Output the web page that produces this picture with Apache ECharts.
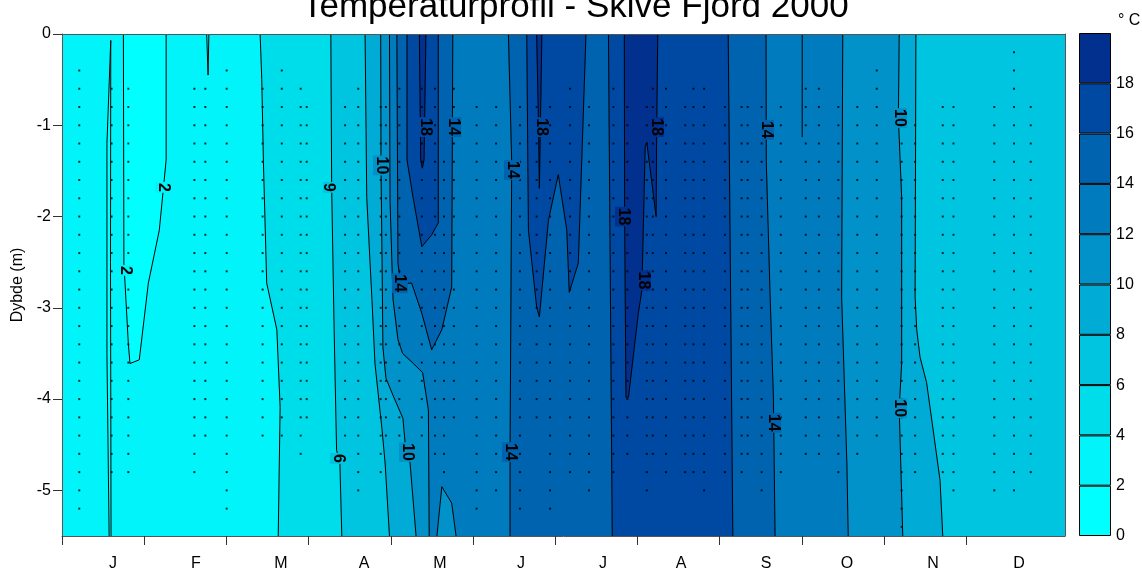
<!DOCTYPE html>
<html><head><meta charset="utf-8">
<script src="https://cdn.jsdelivr.net/npm/echarts@6/dist/echarts.min.js"></script>
<style>html,body{margin:0;padding:0;background:#fff}#c{width:1142px;height:572px}</style>
</head><body><div id="c"></div>
<script>
// ---------- axes / legend ----------
const MONTHS = ['J','F','M','A','M','J','J','A','S','O','N','D'];
const MONTH_TICKS = [0,30,60,90,120,150,180,210,240,270,300,330];
const MONTH_LABEL_POS = [18.6,48.9,79.9,110.2,137.9,167.5,197.4,225.9,256.9,286.4,317.8,349.2];
const DEPTH_TICKS = [0,-1,-2,-3,-4,-5];
const LEVELS = [0,2,4,6,8,10,12,14,16,18,20];
const LEVEL_LABELS = [0,2,4,6,8,10,12,14,16,18];
const BAND_COLORS = ['#00FFFF','#00F4FA','#00DDEA','#00C5E0','#00ACD5','#0092C9','#007BBD','#0063AF','#0049A3','#02308F'];

// ---------- isotherms: [day of year, depth m] ----------
const FULL = [[0,0],[0,-5.5],[366,-5.5],[366,0]];
const ISO2_TONGUE = [[22.4,0],[22.6,-2.51],[24.2,-3.39],[24.8,-3.61],[28.2,-3.57],[31.5,-2.73],[35.5,-2.15],[37.0,-1.69],[38.0,-1.38],[38.0,0]];
const ISO2_SLIVER_A = [[17.8,-0.07],[16.4,-1.2],[16.4,-3.5],[17.2,-5.5]];
const ISO2_SLIVER_B = [[17.8,-0.07],[17.7,-2.5],[17.9,-5.5]];
const ISO2_FEB = [[52.8,0],[53.3,-0.45],[53.6,0]];
const ISO4 = [[72.3,0],[72.9,-0.50],[73.5,-1.41],[74.7,-2.73],[78.4,-3.24],[79.6,-4.09],[78.9,-5.5]];
const ISO6 = [[98.1,0],[98.4,-1.68],[99.3,-3.24],[100.2,-4.56],[101.4,-4.70],[102.1,-5.5]];
const ISO8_SPRING = [[110.6,0],[111.2,-1.79],[113.1,-2.91],[114.2,-3.61],[116.8,-4.34],[117.9,-4.70],[119.5,-5.5]];
const ISO10_SPRING = [[116.3,0],[116.4,-1.46],[116.8,-2.51],[117.1,-3.43],[118.2,-3.77],[120.8,-3.96],[124.4,-4.21],[125.5,-4.58],[127.0,-4.70],[129.2,-5.5]];
const ISO12_SPRING = [[119.5,0],[119.7,-1.82],[120.8,-2.91],[122.6,-3.35],[124.3,-3.50],[128.2,-3.61],[131.6,-3.71],[133.7,-4.12],[134.0,-5.5]];
const ISO14_TONGUE = [[122.2,0],[122.6,-2.51],[123.6,-2.73],[127.6,-2.73],[131.3,-3.06],[134.9,-3.46],[138.6,-3.24],[142.2,-2.77],[142.6,0]];
const ISO16_TONGUE = [[125.9,0],[125.9,-1.38],[128.1,-1.79],[131.3,-2.33],[134.9,-2.20],[137.3,-2.07],[137.3,0]];
const ISO18_MAY = [[130.4,0],[130.9,-1.38],[131.5,-1.47],[132.1,-1.38],[132.8,0]];
const ISO12_BOTTOM = [[136.8,-5.5],[138.6,-4.96],[142.2,-5.14],[143.8,-5.5]];
const ISO14_JUNE = [[162.9,0],[164.1,-1.41],[163.5,-4.58],[163.5,-5.5]];
const ISO16_JUNE = [[169.6,0],[170.2,-2.15],[173.2,-2.99],[174.2,-3.10],[177.5,-2.04],[181.1,-1.54],[184.2,-2.15],[185.1,-2.83],[188.4,-2.51],[191.2,0]];
const ISO18_JUNE = [[173.2,0],[173.9,-1.0],[174.2,-1.69],[175.1,0]];
const ISO16_JUL = [[199.4,0],[200.8,-5.5]];
const ISO18_JUL = [[205.2,0],[205.3,-2.0],[205.8,-3.98],[206.7,-3.98],[210.3,-3.06],[211.6,-2.81],[212.8,-1.24],[213.4,-1.19],[216.8,-2.0],[217.0,-1.05],[217.4,0]];
const ISO16_AUG = [[243.1,0],[244.8,-5.5]];
const ISO14_SEP = [[256.9,0],[257.0,-1.4],[258.4,-2.88],[259.6,-3.98],[260.2,-5.5]];
const ISO14_SEP_SPIKE = [[270.1,0],[270.1,-1.13]];
const ISO12_OCT = [[284.9,0],[284.5,-2.88],[286.4,-4.70],[286.9,-5.5]];
const ISO10_NOV = [[305.5,0],[305.2,-0.92],[306.4,-1.79],[306.4,-3.61],[305.5,-4.10],[306.8,-5.5]];
const ISO8_NOV = [[311.6,0],[311.3,-2.88],[311.9,-3.24],[313.1,-3.54],[315.5,-3.82],[317.9,-4.34],[320.4,-4.89],[321.4,-5.5]];

// contour labels: [day, depth, text, band behind]
const CONTOUR_LABELS = [
  [36.9,-1.68,'2',1],[23.0,-2.59,'2',1],
  [98.2,-1.68,'6',3],[100.7,-4.65,'6',3],
  [116.4,-1.44,'10',5],[125.9,-4.58,'10',5],
  [123.3,-2.73,'14',7],[142.7,-1.02,'14',7],[132.5,-1.02,'18',8],
  [164.2,-1.49,'14',7],[163.5,-4.58,'14',7],[174.8,-1.02,'18',8],
  [204.7,-2.0,'18',9],[212.0,-2.70,'18',9],[216.8,-1.02,'18',9],
  [256.9,-1.05,'14',7],[259.5,-4.26,'14',7],
  [305.4,-0.92,'10',5],[305.4,-4.10,'10',5]
];
const LABELS_READ_UP = [2];   // indices of labels that read bottom-to-top

// sampling profiles: [day, shallowest depth, deepest depth]
const DEPTHS = [-0.2,-0.4,-0.6,-0.8,-1.0,-1.2,-1.4,-1.6,-1.8,-2.0,-2.2,-2.4,-2.6,-2.8,-3.0,-3.2,-3.4,-3.6,-3.8,-4.0,-4.2,-4.4,-4.6,-4.8,-5.0,-5.2,-5.4];
const PROFILES = [
  [6.3,-0.4,-5.2],[18.1,-0.6,-4.8],[24.2,-0.6,-4.8],[48.3,-0.6,-4.8],[52.3,-0.6,-4.4],[60.1,-0.4,-5.2],
  [73.2,-0.6,-4.4],[80.2,-0.4,-4.4],[87.1,-0.6,-4.6],[89.3,-0.8,-4.2],[103.3,-0.8,-4.4],[108.1,-0.6,-5.0],
  [116.3,-0.8,-4.8],[118.2,-0.8,-4.4],[123.1,-0.6,-4.4],[131.3,-0.6,-4.4],[136.1,-0.6,-4.6],[139.4,-1.4,-4.8],
  [143.0,-0.6,-4.2],[151.3,-0.8,-5.2],[158.4,-0.8,-5.0],[167.1,-0.8,-5.2],[173.2,-0.8,-4.2],[178.1,-0.8,-5.2],
  [185.4,-0.6,-4.8],[192.3,-0.8,-5.0],[201.2,-0.6,-4.8],[206.3,-0.8,-4.6],[213.4,-0.8,-5.0],[215.6,-0.6,-4.6],
  [220.4,-0.6,-4.8],[227.4,-0.8,-4.8],[230.4,-0.6,-4.8],[234.3,-0.6,-5.0],[241.9,-0.8,-4.8],[248.0,-0.8,-4.8],
  [250.2,-0.8,-4.6],[255.3,-0.8,-5.0],[262.3,-0.8,-4.8],[271.4,-0.6,-4.6],[276.2,-0.6,-4.6],[283.3,-0.8,-4.8],
  [290.2,-0.8,-4.6],[297.3,-0.4,-4.4],[306.4,-1.2,-5.4],[311.3,-1.0,-4.8],[321.4,-0.8,-4.8],[325.3,-0.8,-5.0],
  [340.2,-0.8,-5.0],[347.4,-0.2,-5.0],[353.5,-0.8,-4.8]
];

// ---------- build ----------
const rev = a => a.slice().reverse();
const RIGHT_EDGE = [[366,-5.5],[366,0]];
const REGIONS = [
  {band:1, pts: FULL},
  {band:0, pts: ISO2_TONGUE},
  {band:0, pts: ISO2_SLIVER_A.concat(rev(ISO2_SLIVER_B))},
  {band:0, pts: ISO2_FEB},
  {band:2, pts: ISO4.concat(RIGHT_EDGE)},
  {band:3, pts: ISO6.concat(RIGHT_EDGE)},
  {band:4, pts: ISO8_SPRING.concat(rev(ISO8_NOV))},
  {band:5, pts: ISO10_SPRING.concat(rev(ISO10_NOV))},
  {band:6, pts: ISO12_SPRING.concat(rev(ISO12_OCT))},
  {band:5, pts: ISO12_BOTTOM},
  {band:7, pts: ISO14_TONGUE},
  {band:7, pts: ISO14_JUNE.concat(rev(ISO14_SEP))},
  {band:8, pts: ISO16_TONGUE},
  {band:8, pts: ISO16_JUNE},
  {band:8, pts: ISO16_JUL.concat(rev(ISO16_AUG))},
  {band:9, pts: ISO18_MAY},
  {band:9, pts: ISO18_JUNE},
  {band:9, pts: ISO18_JUL}
];
const ISOLINES = [ISO2_TONGUE,ISO2_SLIVER_A,ISO2_SLIVER_B,ISO2_FEB,ISO4,ISO6,ISO8_SPRING,ISO10_SPRING,ISO12_SPRING,
  ISO14_TONGUE,ISO16_TONGUE,ISO18_MAY,ISO12_BOTTOM,ISO14_JUNE,ISO16_JUNE,ISO18_JUNE,ISO16_JUL,ISO18_JUL,ISO16_AUG,
  ISO14_SEP,ISO14_SEP_SPIKE,ISO12_OCT,ISO10_NOV,ISO8_NOV];

const DOTS = [];
PROFILES.forEach(p => DEPTHS.forEach(d => { if (d <= p[1] + 1e-6 && d >= p[2] - 1e-6) DOTS.push([p[0], d]); }));

const FONT = 'Liberation Sans, Arial, sans-serif';
const series = [];
series.push({
  type:'custom', xAxisIndex:0, yAxisIndex:0, z:1, silent:true, clip:true,
  data: REGIONS.map(r => r.pts[0]),
  encode:{x:0,y:1},
  renderItem:(params, api) => {
    const r = REGIONS[params.dataIndex];
    return {type:'polygon', shape:{points: r.pts.map(p => api.coord(p))},
      style:{fill: BAND_COLORS[r.band], stroke: BAND_COLORS[r.band], lineWidth:0.5}};
  }
});
ISOLINES.forEach(line => series.push({
  type:'line', xAxisIndex:0, yAxisIndex:0, z:3, silent:true, data: line, symbol:'none', showSymbol:false,
  lineStyle:{color:'#000', width:1}
}));
series.push({type:'scatter', xAxisIndex:0, yAxisIndex:0, z:4, silent:true, data: DOTS, symbol:'rect', symbolSize:2, itemStyle:{color:'#000'}});
series.push({
  type:'custom', xAxisIndex:0, yAxisIndex:0, z:5, silent:true,
  data: CONTOUR_LABELS.map(l => [l[0], l[1]]), encode:{x:0,y:1},
  renderItem:(params, api) => {
    const l = CONTOUR_LABELS[params.dataIndex];
    const c = api.coord([l[0], l[1]]);
    const up = LABELS_READ_UP.indexOf(params.dataIndex) >= 0;
    return {type:'text', x:c[0], y:c[1], rotation: up ? Math.PI/2 : -Math.PI/2,
      style:{text:l[2], fill:'#000', font:'bold 16px ' + FONT, align:'center', verticalAlign:'middle',
        backgroundColor: BAND_COLORS[l[3]], padding:[0,1]}};
  }
});
for (let i = 0; i < LEVELS.length - 1; i++) {
  series.push({type:'bar', xAxisIndex:2, yAxisIndex:2, stack:'cb', barWidth:'100%', silent:true,
    data:[LEVELS[i+1] - LEVELS[i]], itemStyle:{color: BAND_COLORS[i], borderColor:'#000', borderWidth:1}});
}

const chart = echarts.init(document.getElementById('c'), null, {renderer:'canvas'});
chart.setOption({
  animation:false,
  backgroundColor:'#fff',
  title:{text:'Temperaturprofil - Skive Fjord 2000', left:297, top:-15,
    textStyle:{fontSize:35, fontWeight:'normal', color:'#000', fontFamily:FONT}},
  graphic:[{type:'text', left:1118, top:13, style:{text:'° C', font:'16px ' + FONT, fill:'#000'}}],
  grid:[
    {left:62, top:34, width:1003, height:502},
    {left:1079, top:33, width:32, height:503}
  ],
  xAxis:[
    {type:'value', gridIndex:0, min:0, max:366, z:10,
      axisLine:{show:true, onZero:false, lineStyle:{color:'#555', width:1}},
      axisTick:{show:true, length:9, customValues:MONTH_TICKS, lineStyle:{color:'#333'}},
      axisLabel:{customValues:MONTH_LABEL_POS, margin:20, fontSize:16, color:'#000', fontFamily:FONT,
        formatter:v => { let bi=0; MONTH_LABEL_POS.forEach((p,i)=>{ if (Math.abs(p-v) < Math.abs(MONTH_LABEL_POS[bi]-v)) bi=i; }); return MONTHS[bi]; }},
      splitLine:{show:false}},
    {type:'value', gridIndex:0, min:0, max:366, position:'top', z:10,
      axisLine:{show:true, onZero:false, lineStyle:{color:'#555', width:1}},
      axisTick:{show:false}, axisLabel:{show:false}, splitLine:{show:false}},
    {type:'category', gridIndex:1, data:['T'], show:false}
  ],
  yAxis:[
    {type:'value', gridIndex:0, min:-5.5, max:0, z:10,
      name:'Dybde (m)', nameLocation:'middle', nameGap:24,
      nameTextStyle:{fontSize:16, color:'#000', fontFamily:FONT},
      axisLine:{show:true, onZero:false, lineStyle:{color:'#555', width:1}},
      axisTick:{show:true, length:9, customValues:DEPTH_TICKS, lineStyle:{color:'#333'}},
      axisLabel:{customValues:DEPTH_TICKS, margin:11, fontSize:16, color:'#000', fontFamily:FONT},
      splitLine:{show:false}},
    {type:'value', gridIndex:0, min:-5.5, max:0, position:'right', z:10,
      axisLine:{show:true, onZero:false, lineStyle:{color:'#555', width:1}},
      axisTick:{show:false}, axisLabel:{show:false}, splitLine:{show:false}},
    {type:'value', gridIndex:1, min:0, max:20, position:'right',
      axisLine:{show:false}, axisTick:{show:false}, splitLine:{show:false},
      axisLabel:{customValues:LEVEL_LABELS, margin:5, fontSize:16, color:'#000', fontFamily:FONT}}
  ],
  series: series
});
</script>
</body></html>
